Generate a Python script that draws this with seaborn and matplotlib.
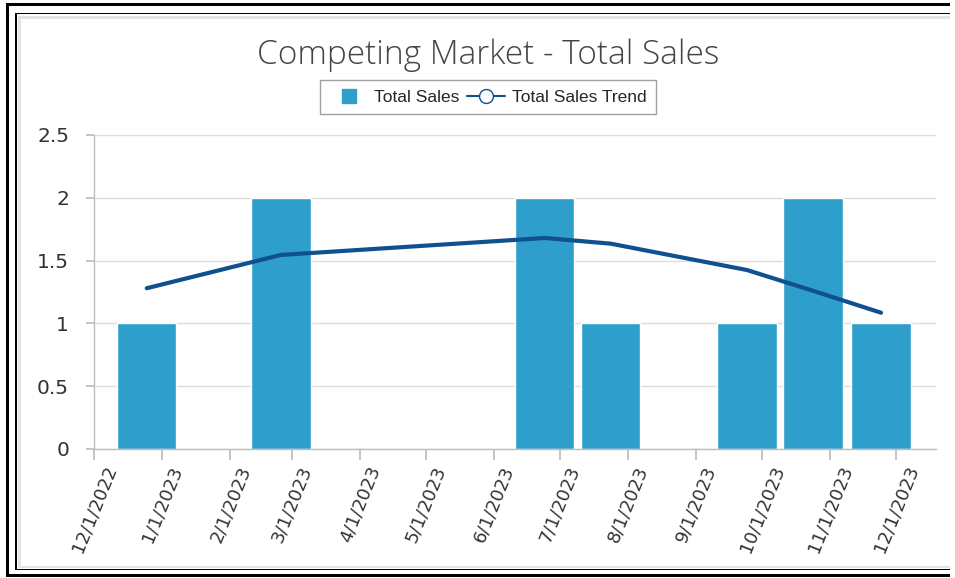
import pandas as pd
import matplotlib.pyplot as plt
import matplotlib.dates as mdates
from matplotlib.lines import Line2D
from matplotlib.patches import Rectangle
import seaborn as sns

# data
bar_dates = ["2022-12-25", "2023-02-24", "2023-06-24", "2023-07-24",
             "2023-09-24", "2023-10-24", "2023-11-24"]
total_sales = [1, 2, 2, 1, 1, 2, 1]
sales_trend = [1.28, 1.545, 1.68, 1.635, 1.425, 1.26, 1.085]
tick_dates = pd.date_range("2022-12-01", "2023-12-01", freq="MS")
y_ticks = [0, 0.5, 1, 1.5, 2, 2.5]
y_labels = ["0", "0.5", "1", "1.5", "2", "2.5"]

df = pd.DataFrame({"date": pd.to_datetime(bar_dates),
                   "sales": total_sales,
                   "trend": sales_trend})

sns.set_theme(style="white")
plt.rcParams["font.family"] = ["Open Sans", "DejaVu Sans"]

bar_color = "#2E9FCB"
line_color = "#11508F"
grid_color = "#DCDCDC"
spine_color = "#BDBDBD"

fig = plt.figure(figsize=(9.55, 5.78), dpi=100)
ax = fig.add_axes([94 / 955, 1 - 449 / 578, (936 - 94) / 955, (449 - 135) / 578])

ax.bar(mdates.date2num(df["date"]), df["sales"], width=27, color=bar_color,
       align="center", zorder=2)
sns.lineplot(data=df, x="date", y="trend", ax=ax, color=line_color,
             linewidth=3, zorder=3)

ax.set_xlim(mdates.date2num(pd.Timestamp("2022-12-01")),
            mdates.date2num(pd.Timestamp("2023-12-19")))
ax.set_ylim(0, 2.5)
ax.set_yticks(y_ticks)
ax.set_yticklabels(y_labels, fontsize=14.5, color="#333333",
                   family="DejaVu Sans")
ax.set_xticks(mdates.date2num(tick_dates))
ax.set_xticklabels([f"{d.month}/{d.day}/{d.year}" for d in tick_dates],
                   rotation=68, ha="center", va="top", fontsize=13,
                   color="#333333", family="DejaVu Sans")
ax.set_xlabel("")
ax.set_ylabel("")

ax.grid(axis="y", color=grid_color, linewidth=1, zorder=0)
ax.grid(axis="x", visible=False)
for side in ["top", "right"]:
    ax.spines[side].set_visible(False)
for side in ["left", "bottom"]:
    ax.spines[side].set_color(spine_color)
    ax.spines[side].set_linewidth(1)
ax.tick_params(axis="y", length=6, color=spine_color, left=True, pad=12)
ax.tick_params(axis="x", length=8, color=spine_color, bottom=True, pad=2)

fig.text(488 / 955, 1 - 55 / 578, "Competing Market - Total Sales",
         ha="center", va="center", fontsize=24, color="#444444",
         fontweight="light")

handles = [Line2D([0], [0], linestyle="none", marker="s", markersize=10,
                  markerfacecolor=bar_color, markeredgecolor=bar_color),
           Line2D([0], [0], color=line_color, linewidth=1.5, marker="o",
                  markersize=10, markerfacecolor="white",
                  markeredgecolor=line_color)]
leg = fig.legend(handles, ["Total Sales", "Total Sales Trend"], ncol=2,
                 loc="center", bbox_to_anchor=(488 / 955, 1 - 97 / 578),
                 frameon=True, fancybox=False,
                 prop={"family": "Liberation Sans", "size": 12.5},
                 handlelength=2.2, handletextpad=0.35,
                 columnspacing=0.45, borderpad=0.55)
leg.get_frame().set_edgecolor("#888888")
leg.get_frame().set_linewidth(1)

# frame around the picture (top, left, bottom only; right side is cut off)
W, H = 955, 578
X_END = 950


def frame(x0, y0, y1, t, color):
    # filled strips in pixel units: top, left, bottom
    for x, y, w, h in [(x0, y0, X_END - x0, t), (x0, y0, t, y1 - y0),
                       (x0, y1 - t, X_END - x0, t)]:
        fig.add_artist(Rectangle((x / W, 1 - (y + h) / H), w / W, h / H,
                                 transform=fig.transFigure, facecolor=color,
                                 edgecolor="none", linewidth=0))


frame(18, 16, 568, 2.5, "#E4E4E4")
frame(15, 12.7, 570.2, 1.6, "black")
frame(6, 3.2, 577, 3.0, "black")

fig.savefig("out.png", dpi=100)
